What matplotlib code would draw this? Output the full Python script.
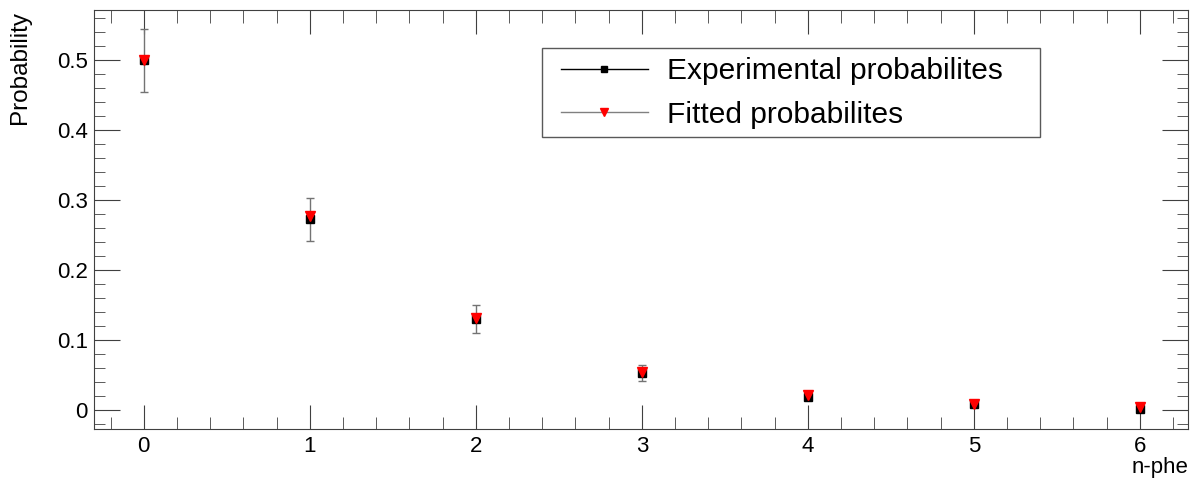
import matplotlib
matplotlib.use("Agg")
import matplotlib.pyplot as plt
from matplotlib.lines import Line2D
from matplotlib.patches import Rectangle
from matplotlib.ticker import MultipleLocator, FuncFormatter

plt.rcParams["font.family"] = ["Liberation Sans", "DejaVu Sans"]

# 光电子数 n-phe 与概率
n_phe = [0, 1, 2, 3, 4, 5, 6]
p_exp = [0.499, 0.272, 0.130, 0.053, 0.018, 0.008, 0.002]
p_err = [0.045, 0.031, 0.020, 0.012, 0.004, 0.002, 0.001]
p_fit = [0.499, 0.277, 0.131, 0.055, 0.021, 0.009, 0.004]

W, H = 1198, 479
fig = plt.figure(figsize=(W / 100, H / 100), dpi=100)
ax = fig.add_axes([94 / W, 1 - 429 / H, 1094 / W, 419 / H])

ax.errorbar(n_phe, p_exp, yerr=p_err, fmt="s", color="black", ms=6,
            ecolor="0.45", elinewidth=1.0, capsize=3, capthick=1.0, zorder=3)
ax.plot(n_phe, p_fit, "v", color="red", ms=7, ls="none", zorder=4)

ax.set_xlim(-0.3, 6.29)
ax.set_ylim(-0.027, 0.571)
ax.xaxis.set_major_locator(MultipleLocator(1))
ax.xaxis.set_minor_locator(MultipleLocator(0.2))
ax.yaxis.set_major_locator(MultipleLocator(0.1))
ax.yaxis.set_minor_locator(MultipleLocator(0.02))
ax.yaxis.set_major_formatter(FuncFormatter(lambda v, _: "0" if abs(v) < 1e-9 else f"{v:g}"))
ax.tick_params(which="both", direction="in", top=True, right=True,
               labelsize=16, color="0.25")
ax.tick_params(axis="x", which="major", length=17, pad=5)
ax.tick_params(axis="x", which="minor", length=9)
ax.tick_params(axis="y", which="major", length=19, pad=4.5)
ax.tick_params(axis="y", which="minor", length=8)
for sp in ax.spines.values():
    sp.set_color("0.25")

fig.text(1188 / W, 1 - 467 / H, "n-phe", ha="right", va="center", fontsize=16)
fig.text(20 / W, 1 - 11 / H, "Probability", ha="center", va="top",
         rotation=90, fontsize=17.5)

# 图例: 外框单独画, 图例本身无框
box = Rectangle(((542 - 94) / 1094, (429 - 137) / 419), (1040 - 542) / 1094, 89 / 419,
                transform=ax.transAxes, fill=True, facecolor="white",
                edgecolor="0.35", lw=1, zorder=5)
ax.add_patch(box)
handles = [
    Line2D([], [], color="black", lw=1, marker="s", ms=5, mfc="black"),
    Line2D([], [], color="0.5", lw=1, marker="v", ms=6, mfc="red", mec="red"),
]
leg = ax.legend(handles, ["Experimental probabilites", "Fitted probabilites"],
                loc="center left", bbox_to_anchor=((561 - 94) / 1094, (429 - 93) / 419),
                fontsize=21.5, numpoints=1, handlelength=2.9, handletextpad=0.64,
                frameon=False, borderpad=0, borderaxespad=0, labelspacing=0.52)
leg.set_zorder(6)

fig.savefig("out.png", dpi=100)
